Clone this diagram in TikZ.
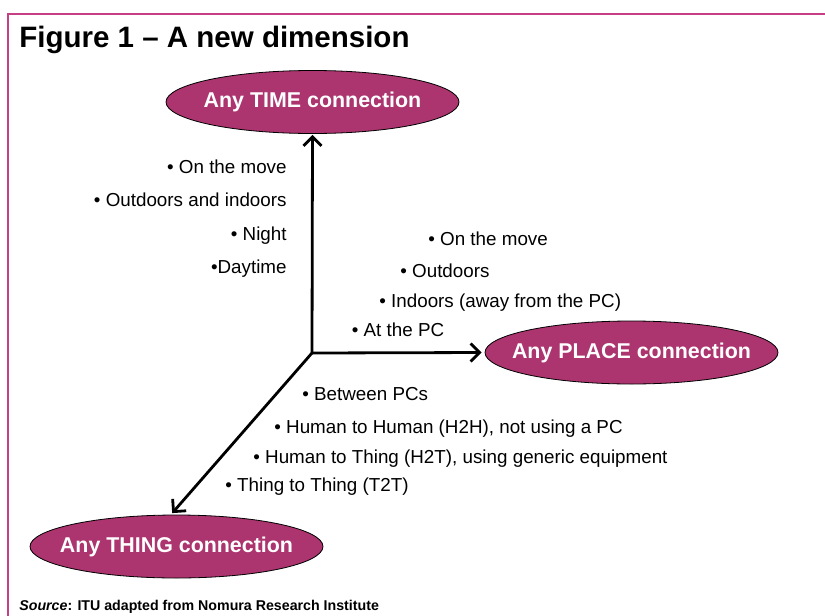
\documentclass[tikz,border=0pt]{standalone}
\usepackage{fontspec}
\setmainfont{Liberation Sans}
\usetikzlibrary{arrows.meta,shapes.geometric}
\definecolor{ituplum}{RGB}{172,52,111}
\definecolor{framepink}{RGB}{198,62,132}

\begin{document}
\begin{tikzpicture}[x=1pt,y=-1pt, line width=2.8pt,
        >={Straight Barb[length=9pt,width=18pt]}]
      \tikzstyle{dimension} = [ellipse, draw=black, line width=0.8pt, fill=ituplum,
        minimum width=293pt, minimum height=63pt, inner sep=0pt]
      \tikzstyle{dimtext} = [text=white, font=\fontsize{21.4}{25}\selectfont\bfseries, inner sep=0pt]
      \tikzstyle{item} = [font=\fontsize{18.8}{22}\selectfont, inner sep=0pt]
      \useasboundingbox (0,0) rectangle (825,616);
      \draw[line width=2pt, framepink] (8,616) -- (8,14) -- (825,14);
      \node (title) [anchor=base west, inner sep=0pt, font=\fontsize{29.5}{34}\selectfont\bfseries]
        at (18,47) {Figure 1 – A new dimension};
      \coordinate (hub) at (312,353);
      \node (time) [dimension, label={[dimtext]center:Any TIME connection}] at (312.5,102) {};
      \node (place) [dimension, label={[dimtext]center:Any PLACE connection}] at (631.5,352.5) {};
      \node (thing) [dimension, label={[dimtext]center:Any THING connection}] at (176.5,546.5) {};
      % time items
      \node (t1) [item, anchor=base east] at (288,173.3) {• On the move};
      \node (t2) [item, anchor=base east] at (288,206.8) {• Outdoors and indoors};
      \node (t3) [item, anchor=base east] at (288,240.3) {• Night};
      \node (t4) [item, anchor=base east] at (288,273.8) {•Daytime};
      % place items
      \node (p1) [item, anchor=base west] at (427,245) {• On the move};
      \node (p2) [item, anchor=base west] at (399,277.3) {• Outdoors};
      \node (p3) [item, anchor=base west] at (378,307.7) {• Indoors (away from the PC)};
      \node (p4) [item, anchor=base west] at (350.5,336.7) {• At the PC};
      % thing items
      \node (h1) [item, anchor=base west] at (301,400) {• Between PCs};
      \node (h2) [item, anchor=base west] at (273,433.3) {• Human to Human (H2H), not using a PC};
      \node (h3) [item, anchor=base west] at (252,463.3) {• Human to Thing (H2T), using generic equipment};
      \node (h4) [item, anchor=base west] at (224,491.7) {• Thing to Thing (T2T)};
      \draw[->, shorten >=1pt] (hub) -- (time.south);
      \draw[->, shorten >=3pt] (hub) -- (place.west);
      \draw[->, shorten >=2pt] (hub) -- (thing.100);
      \node (source) [anchor=base west, inner sep=0pt, font=\fontsize{14.2}{17}\selectfont\bfseries]
        at (18,610) {\textit{Source}: ITU adapted from Nomura Research Institute};
    \end{tikzpicture}
\end{document}
